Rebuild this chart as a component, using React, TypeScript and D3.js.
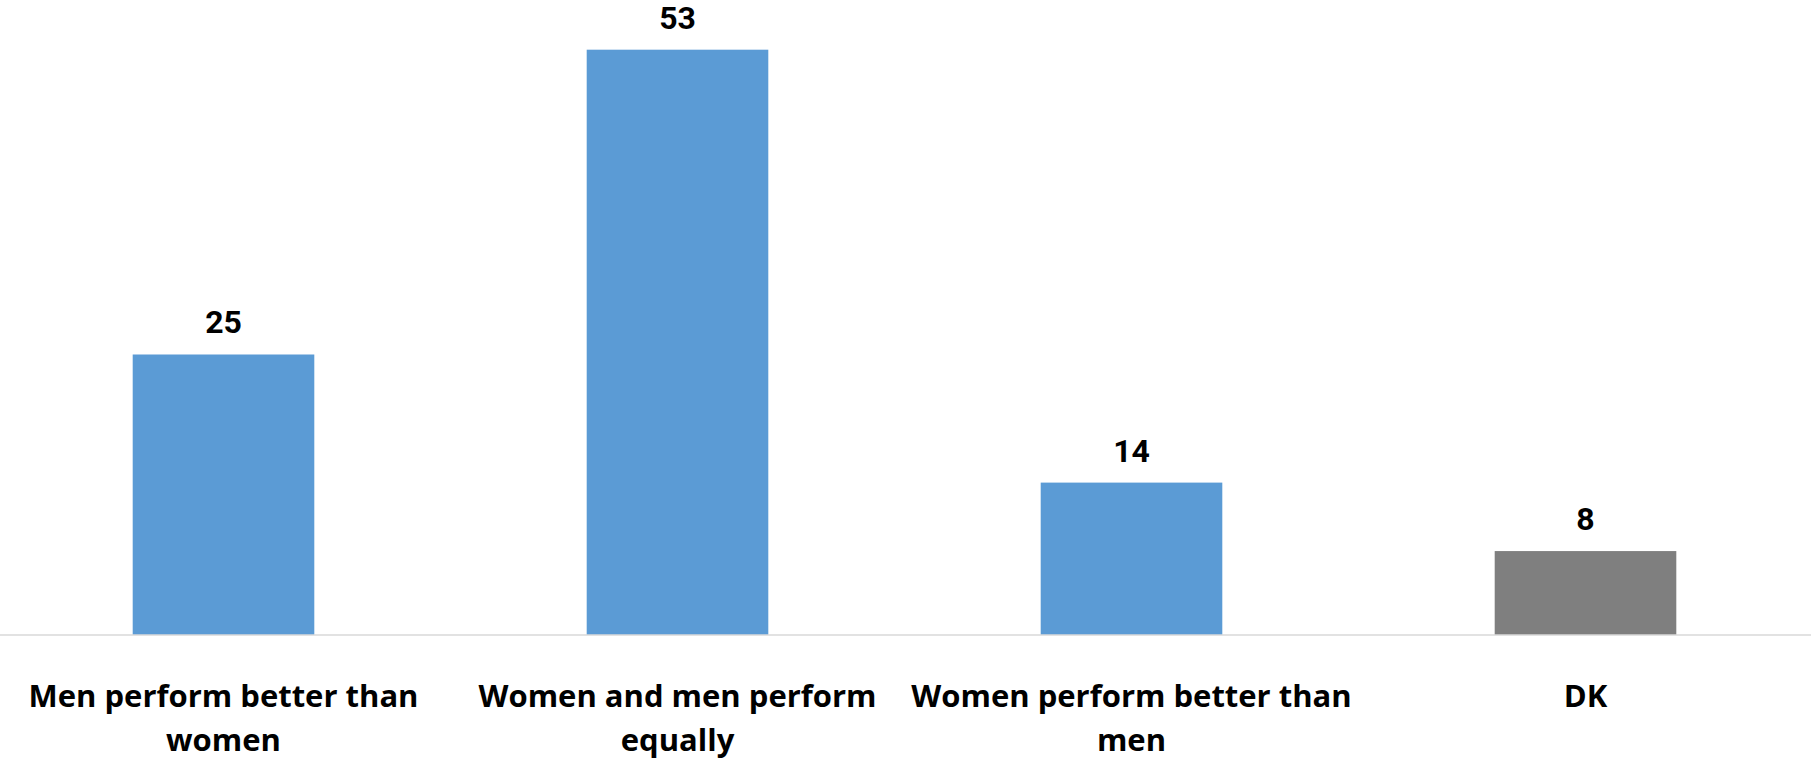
import React from "react";
import * as d3 from "d3";

const categories: string[][] = [
  ["Men perform better than", "women"],
  ["Women and men perform", "equally"],
  ["Women perform better than", "men"],
  ["DK"],
];
const values: number[] = [25.4, 53.0, 13.8, 7.6];
const valueLabels: string[] = ["25", "53", "14", "8"];
const barColors: string[] = ["#5B9BD5", "#5B9BD5", "#5B9BD5", "#7F7F7F"];

const W = 1811;
const H = 762;
const BASE = 635;

export default function App() {
  const ids = categories.map((_, i) => String(i));
  const x = d3
    .scaleBand<string>()
    .domain(ids)
    .range([-3.5, 1812.5])
    .paddingInner(0.6)
    .paddingOuter(0.3);
  const y = d3.scaleLinear().domain([0, 57.5]).range([BASE, 0]);
  const font = "Roboto, 'Open Sans', sans-serif";
  const catFont = "'Open Sans', Roboto, sans-serif";

  return (
    <svg
      width={W}
      height={H}
      style={{ position: "absolute", left: 0, top: 0, background: "#fff" }}
    >
      {values.map((v, i) => {
        const x0 = x(ids[i])!;
        const bw = x.bandwidth();
        return (
          <g key={i}>
            <rect
              x={x0}
              y={y(v)}
              width={bw}
              height={BASE - y(v)}
              fill={barColors[i]}
            />
            <text
              x={x0 + bw / 2}
              y={y(v) - 21}
              textAnchor="middle"
              fontFamily={font}
              fontWeight={700}
              fontSize={32}
              fill="#000"
            >
              {valueLabels[i]}
            </text>
          </g>
        );
      })}
      <line x1={0} x2={W} y1={BASE} y2={BASE} stroke="#D9D9D9" strokeWidth={1.5} />
      {categories.map((lines, i) => {
        const cx = x(ids[i])! + x.bandwidth() / 2;
        return (
          <text
            key={i}
            textAnchor="middle"
            fontFamily={catFont}
            fontWeight={700}
            fontSize={31}
            fill="#000"
          >
            {lines.map((l, j) => (
              <tspan key={j} x={cx} y={707 + j * 44}>
                {l}
              </tspan>
            ))}
          </text>
        );
      })}
    </svg>
  );
}
